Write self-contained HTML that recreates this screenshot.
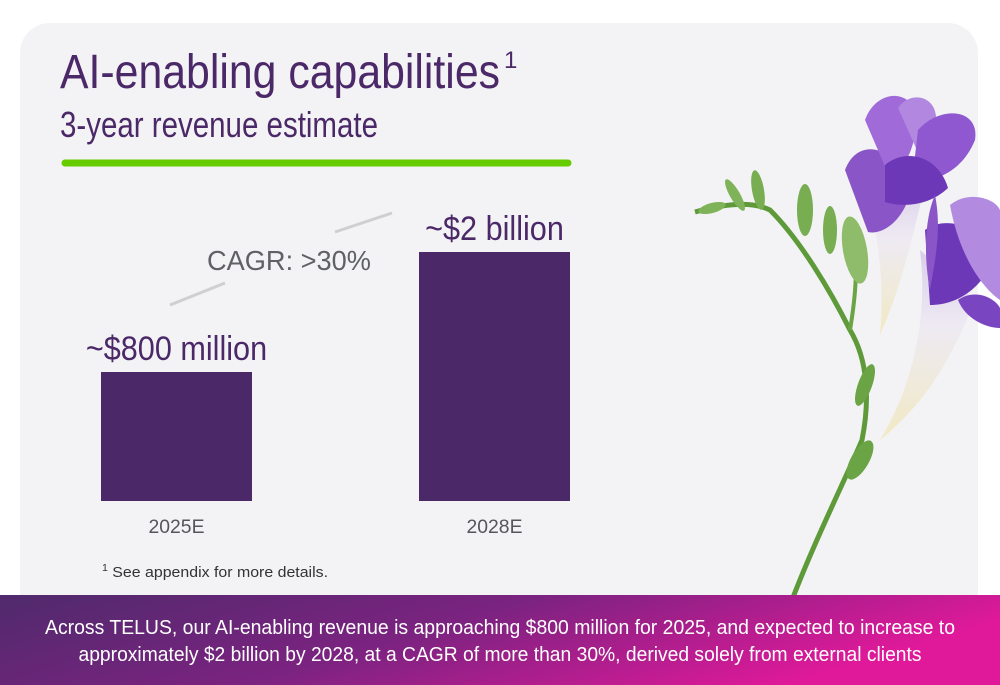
<!DOCTYPE html>
<html><head><meta charset="utf-8">
<style>
html,body{margin:0;padding:0;background:#fff;}
body{width:1000px;height:685px;overflow:hidden;position:relative;font-family:"Liberation Sans",Arial,sans-serif;}
svg{position:absolute;left:0;top:0;}
</style></head>
<body>
<svg id="s" width="1000" height="685" viewBox="0 0 1000 685">
<defs>
<linearGradient id="bg" x1="0" y1="0" x2="1" y2="0.3">
<stop offset="0" stop-color="#4f2a6c"/><stop offset="0.5" stop-color="#7b2380"/><stop offset="1" stop-color="#e0199a"/>
</linearGradient>
<linearGradient id="tube" x1="0" y1="0" x2="0" y2="1">
<stop offset="0" stop-color="#d9cdea"/><stop offset="0.4" stop-color="#eeeaf3"/><stop offset="1" stop-color="#f1e9c4"/>
</linearGradient>
</defs>
<rect x="20" y="23" width="958" height="600" rx="30" fill="#f3f3f5"/>
<text x="60" y="88" font-size="48" fill="#4b2868" textLength="440" lengthAdjust="spacingAndGlyphs">AI-enabling capabilities</text>
<text x="504" y="68" font-size="24" fill="#4b2868">1</text>
<text x="60" y="137" font-size="36" fill="#4b2868" textLength="318" lengthAdjust="spacingAndGlyphs">3-year revenue estimate</text>
<line x1="65" y1="163" x2="568" y2="163" stroke="#66cc00" stroke-width="7" stroke-linecap="round"/>
<line x1="170" y1="305" x2="225" y2="283" stroke="#cfcfd2" stroke-width="3"/>
<line x1="335" y1="232" x2="392" y2="213" stroke="#cfcfd2" stroke-width="3"/>
<text x="289" y="270" font-size="28" fill="#5f6167" text-anchor="middle" textLength="164" lengthAdjust="spacingAndGlyphs">CAGR: &gt;30%</text>
<g id="bars"></g>
<text x="102" y="577" font-size="15" fill="#333" textLength="226" lengthAdjust="spacingAndGlyphs"><tspan font-size="10" dy="-6">1</tspan><tspan dy="6"> See appendix for more details.</tspan></text>
<g>
<path d="M792 600 C815 540 845 480 862 440 C870 400 868 360 850 330 C830 290 800 240 770 210 C750 200 720 205 695 212" fill="none" stroke="#5f9a3a" stroke-width="5"/>
<path d="M850 330 C855 300 860 260 850 230" fill="none" stroke="#6aa444" stroke-width="4"/>
<ellipse cx="712" cy="208" rx="14" ry="5" fill="#7fb35a" transform="rotate(-15 712 208)"/>
<ellipse cx="735" cy="195" rx="5" ry="18" fill="#7fb35a" transform="rotate(-30 735 195)"/>
<ellipse cx="758" cy="190" rx="6" ry="20" fill="#78ad52" transform="rotate(-10 758 190)"/>
<ellipse cx="805" cy="210" rx="8" ry="26" fill="#78ad52"/>
<ellipse cx="830" cy="230" rx="7" ry="24" fill="#78ad52"/>
<ellipse cx="855" cy="250" rx="12" ry="34" fill="#8fbc6a" transform="rotate(-10 855 250)"/>
<ellipse cx="865" cy="385" rx="7" ry="22" fill="#6aa444" transform="rotate(20 865 385)"/>
<ellipse cx="860" cy="460" rx="9" ry="22" fill="#6aa444" transform="rotate(30 860 460)"/>
<path d="M862 175 C878 230 885 280 880 335 C900 290 912 240 925 185 Z" fill="url(#tube)"/>
<path d="M845 170 C858 135 900 145 910 195 C900 225 880 235 868 232 Z" fill="#8a55c6"/>
<path d="M865 120 C875 92 905 88 915 110 C920 140 905 170 890 178 Z" fill="#a06ad8"/>
<path d="M898 108 C910 90 938 95 936 122 L925 168 Z" fill="#b287e0"/>
<path d="M918 130 C940 105 980 108 975 140 C962 172 935 182 912 182 Z" fill="#8f58d0"/>
<path d="M885 165 C905 148 938 155 948 188 C930 205 905 208 885 202 Z" fill="#6d38b8"/>
<path d="M920 250 C930 330 905 400 880 440 C930 400 955 350 975 300 Z" fill="url(#tube)"/>
<path d="M925 230 C945 215 980 225 995 255 C985 285 960 305 930 305 Z" fill="#6d38b8"/>
<path d="M950 205 C968 190 995 198 1000 210 L1000 300 C985 290 960 260 950 205 Z" fill="#b28ae0"/>
<path d="M958 300 C975 288 995 298 1000 308 L1000 328 C985 328 965 318 958 300 Z" fill="#7a45c0"/>
<path d="M935 195 C942 230 935 260 930 290 C924 260 924 220 935 195 Z" fill="#8a55c6"/>
</g>
<rect x="0" y="595" width="1000" height="90" fill="url(#bg)"/>
<text x="500" y="634" font-size="20" fill="#fff" text-anchor="middle" textLength="910" lengthAdjust="spacingAndGlyphs">Across TELUS, our AI-enabling revenue is approaching $800 million for 2025, and expected to increase to</text>
<text x="500" y="661" font-size="20" fill="#fff" text-anchor="middle" textLength="843" lengthAdjust="spacingAndGlyphs">approximately $2 billion by 2028, at a CAGR of more than 30%, derived solely from external clients</text>
</svg>
<script>
const categories = ["2025E", "2028E"];
const values = [800, 2000];
const valueLabels = ["~$800 million", "~$2 billion"];
const NS = "http://www.w3.org/2000/svg";
const g = document.getElementById('bars');
const baseY = 501;
function yScale(v){ return baseY - (49 + 0.1 * v); }
function xScale(i){ return 101 + i * 318; }
const barW = 151;
categories.forEach((c, i) => {
  const x = xScale(i), y = yScale(values[i]);
  const r = document.createElementNS(NS, 'rect');
  
  
  r.setAttribute('x', x); r.setAttribute('y', y);
  r.setAttribute('width', barW); r.setAttribute('height', baseY - y);
  r.setAttribute('fill', '#4b2868');
  g.appendChild(r);
  const t = document.createElementNS(NS, 'text');
  
  
  t.setAttribute('x', x + barW / 2); t.setAttribute('y', y - 12);
  t.setAttribute('font-size', '34'); t.setAttribute('fill', '#4b2868');
  t.setAttribute('text-anchor', 'middle');
  t.textContent = valueLabels[i];
  g.appendChild(t);
  const len = t.getComputedTextLength();
  t.setAttribute('textLength', (len * 0.9).toFixed(1));
  t.setAttribute('lengthAdjust', 'spacingAndGlyphs');
  const cl = document.createElementNS(NS, 'text');
  
  
  cl.setAttribute('x', x + barW / 2); cl.setAttribute('y', 533);
  cl.setAttribute('font-size', '19'); cl.setAttribute('fill', '#55565b');
  cl.setAttribute('text-anchor', 'middle');
  cl.setAttribute('textLength', '56'); cl.setAttribute('lengthAdjust', 'spacingAndGlyphs');
  cl.textContent = c;
  g.appendChild(cl);
});
</script>
</body></html>
